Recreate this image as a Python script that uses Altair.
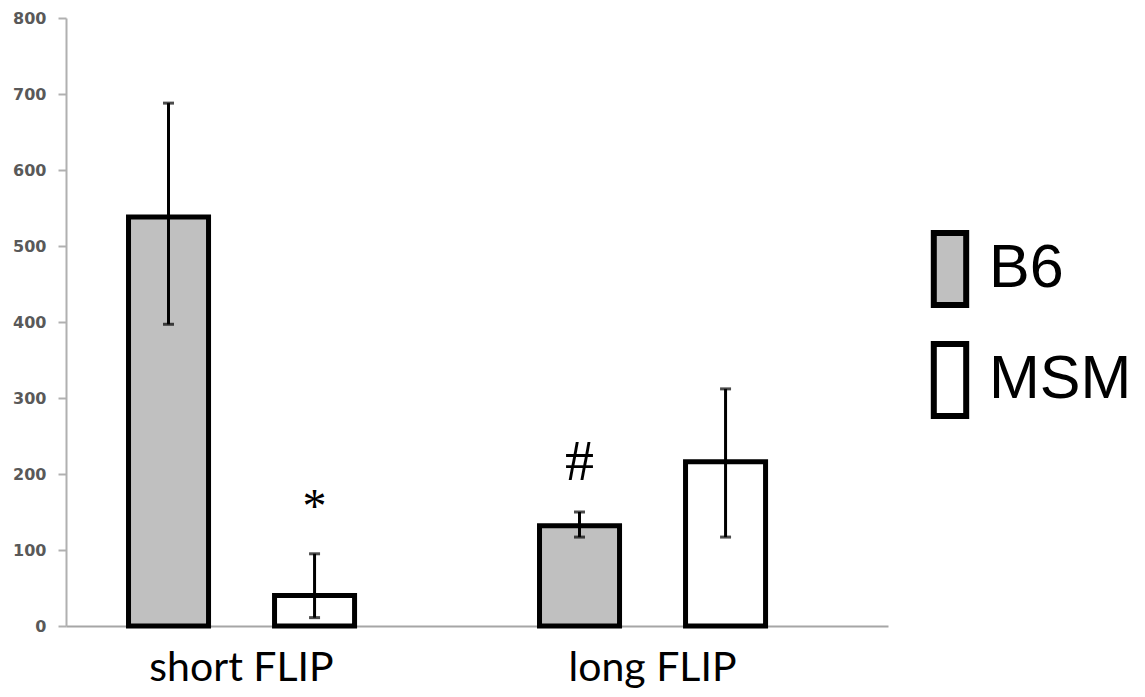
import altair as alt
import pandas as pd

categories = ["short FLIP", "short FLIP", "long FLIP", "long FLIP"]
strains = ["B6", "MSM", "B6", "MSM"]
means = [538, 40, 132, 216]
err_low = [397, 11, 117, 117]
err_high = [688, 95, 150, 312]
marks = ["", "*", "#", ""]

cat_order = ["short FLIP", "long FLIP"]
strain_order = ["B6", "MSM"]
y_ticks = [0, 100, 200, 300, 400, 500, 600, 700, 800]

df = pd.DataFrame({
    "category": categories,
    "strain": strains,
    "mean": means,
    "lo": err_low,
    "hi": err_high,
    "mark": marks,
})

x = alt.X("category:N", sort=cat_order,
          scale=alt.Scale(paddingInner=0.45, paddingOuter=0.225, align=0.338),
          axis=alt.Axis(title=None, labelAngle=0, ticks=False, domainColor="#a6a6a6",
                        domainWidth=2, labelFont="Lato", labelFontSize=41,
                        labelColor="#000000", labelPadding=22, labelLimit=0))
xo = alt.XOffset("strain:N", sort=strain_order,
                 scale=alt.Scale(paddingInner=0.452, paddingOuter=0))
yscale = alt.Scale(domain=[0, 800], nice=False)

base = alt.Chart(df)

bars = base.mark_bar(stroke="black", strokeWidth=5).encode(
    x=x,
    xOffset=xo,
    y=alt.Y("mean:Q", scale=yscale,
            axis=alt.Axis(title=None, values=y_ticks, grid=False, domainColor="#b0b0b0",
                          domainWidth=2, tickColor="#b0b0b0", tickWidth=2, tickSize=8,
                          labelFont="DejaVu Sans", labelFontWeight="bold", labelFontSize=16,
                          labelColor="#595959", labelPadding=12)),
    fill=alt.Fill("strain:N", sort=strain_order,
                  scale=alt.Scale(domain=strain_order, range=["#c0c0c0", "#ffffff"]),
                  legend=alt.Legend(title=None, orient="none", legendX=845, legendY=212,
                                    symbolType="M-0.45,-1H0.45V1H-0.45Z", symbolSize=5184,
                                    symbolStrokeColor="black", symbolStrokeWidth=6,
                                    labelFont="Liberation Sans", labelFontSize=61,
                                    labelColor="#000000", labelOffset=0, rowPadding=15,
                                    padding=0, labelLimit=0)),
)

rules = base.mark_rule(color="black", strokeWidth=3).encode(
    x=alt.X("category:N", sort=cat_order), xOffset=xo,
    y=alt.Y("lo:Q", scale=yscale), y2="hi:Q",
)
caps_hi = base.mark_tick(color="black", thickness=3, size=11, orient="horizontal").encode(
    x=alt.X("category:N", sort=cat_order), xOffset=xo, y=alt.Y("hi:Q", scale=yscale),
)
caps_lo = base.mark_tick(color="black", thickness=3, size=11, orient="horizontal").encode(
    x=alt.X("category:N", sort=cat_order), xOffset=xo, y=alt.Y("lo:Q", scale=yscale),
)
star = base.transform_filter(alt.datum.mark == "*").mark_text(
    font="Liberation Serif", fontSize=48, color="black", baseline="alphabetic", dy=-32
).encode(x=alt.X("category:N", sort=cat_order), xOffset=xo,
         y=alt.Y("hi:Q", scale=yscale), text="mark:N")
hashm = base.transform_filter(alt.datum.mark == "#").mark_text(
    font="Liberation Serif", fontSize=58, color="black", baseline="alphabetic", dy=-32
).encode(x=alt.X("category:N", sort=cat_order), xOffset=xo,
         y=alt.Y("hi:Q", scale=yscale), text="mark:N")

chart = alt.layer(bars, rules, caps_hi, caps_lo, star, hashm).properties(
    width=822, height=608,
    padding={"left": 58, "top": 10, "right": 247, "bottom": 63},
    autosize=alt.AutoSizeParams(type="none"),
    background="white",
).configure_view(strokeWidth=0)

chart.save("out.html", embed_options={"renderer": "svg", "actions": False})
